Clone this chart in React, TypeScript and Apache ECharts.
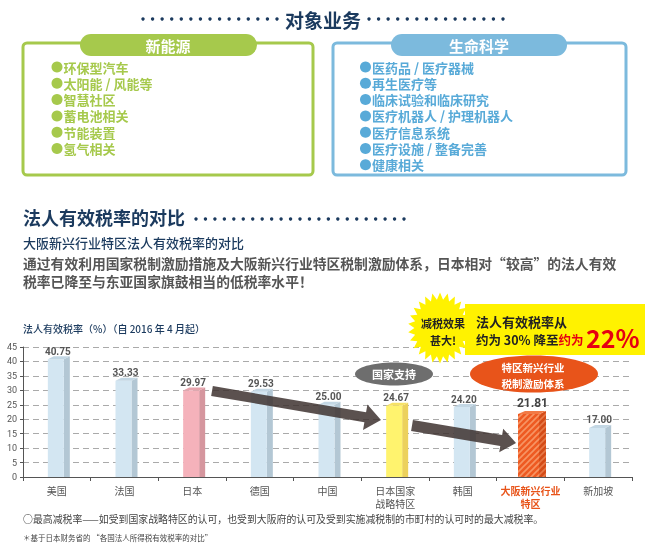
import React, { useEffect, useRef } from 'react';
import * as echarts from 'echarts';

const categories = ['美国', '法国', '日本', '德国', '中国', '日本国家\n战略特区', '韩国', '大阪新兴行业\n特区', '新加坡'];
const rates = [40.75, 33.33, 29.97, 29.53, 25.0, 24.67, 24.2, 21.81, 17.0];
const barKinds = ['other', 'other', 'japan', 'other', 'other', 'zone', 'other', 'osaka', 'other'];
const yMin = 0;
const yMax = 45;
const yStep = 5;
const newEnergyItems = ['环保型汽车', '太阳能 / 风能等', '智慧社区', '蓄电池相关', '节能装置', '氢气相关'];
const lifeScienceItems = ['医药品 / 医疗器械', '再生医疗等', '临床试验和临床研究', '医疗机器人 / 护理机器人', '医疗信息系统', '医疗设施 / 整备完善', '健康相关'];

const F = '"Noto Sans CJK SC", "Noto Sans", sans-serif';
const NAVY = '#1b3a5e';
const GREEN = '#a6c94c';
const BLUE = '#7cbadd';
const BLUE_TEXT = '#58aad8';
const ORANGE = '#e8541a';

function arrowPts(x1: number, y1: number, x2: number, y2: number, sw: number, hw: number, hl: number) {
  const L = Math.hypot(x2 - x1, y2 - y1);
  const ux = (x2 - x1) / L, uy = (y2 - y1) / L;
  const px = -uy, py = ux;
  const bx = x2 - ux * hl, by = y2 - uy * hl;
  return [
    [x1 + (px * sw) / 2, y1 + (py * sw) / 2],
    [bx + (px * sw) / 2, by + (py * sw) / 2],
    [bx + (px * hw) / 2, by + (py * hw) / 2],
    [x2, y2],
    [bx - (px * hw) / 2, by - (py * hw) / 2],
    [bx - (px * sw) / 2, by - (py * sw) / 2],
    [x1 - (px * sw) / 2, y1 - (py * sw) / 2],
  ];
}

function starPts(cx: number, cy: number, rx: number, ry: number, n: number, inner: number) {
  const pts: number[][] = [];
  for (let i = 0; i < n * 2; i++) {
    const a = -Math.PI / 2 + (i * Math.PI) / n;
    const r = i % 2 ? inner : 1;
    pts.push([cx + rx * r * Math.cos(a), cy + ry * r * Math.sin(a)]);
  }
  return pts;
}

function dotRow(x0: number, x1: number, y: number, n: number) {
  const els: any[] = [];
  for (let i = 0; i < n; i++) {
    els.push({ type: 'circle', z: 100, shape: { cx: x0 + ((x1 - x0) * i) / (n - 1), cy: y, r: 1.7 }, style: { fill: NAVY } });
  }
  return els;
}

function makeStripe(base: string, stripe: string) {
  const cv = document.createElement('canvas');
  cv.width = 6;
  cv.height = 6;
  const ctx = cv.getContext('2d')!;
  ctx.fillStyle = base;
  ctx.fillRect(0, 0, 6, 6);
  ctx.strokeStyle = stripe;
  ctx.lineWidth = 1.6;
  ctx.beginPath();
  ctx.moveTo(0, 6); ctx.lineTo(6, 0);
  ctx.moveTo(-3, 3); ctx.lineTo(3, -3);
  ctx.moveTo(3, 9); ctx.lineTo(9, 3);
  ctx.stroke();
  return { image: cv, repeat: 'repeat' };
}

function txt(text: string, x: number, y: number, size: number, fill: string, weight: any = 'normal', align = 'left', extra: any = {}) {
  return {
    type: 'text', z: 101, x, y,
    style: { text, fill, fontSize: size, fontWeight: weight, fontFamily: F, align, verticalAlign: 'middle', ...extra },
  };
}

export default function App() {
  const ref = useRef<HTMLDivElement>(null);
  useEffect(() => {
    const chart = echarts.init(ref.current!, null, { renderer: 'svg' });
    const palette: any = {
      other: { front: '#d3e6f2', side: '#b3c7d4', top: '#c3d7e4' },
      japan: { front: '#f5b2bb', side: '#d5969e', top: '#e7a4ad' },
      zone: { front: '#fff36e', side: '#ecd15c', top: '#f6e266' },
      osaka: { front: makeStripe('#ee5a22', '#f79564'), side: makeStripe('#d44c18', '#e87a48'), top: '#f27a45' },
    };

    const elements: any[] = [];
    // Top section
    elements.push(...dotRow(143, 277, 19, 15));
    elements.push(...dotRow(369, 503, 19, 15));
    elements.push(txt('对象业务', 323, 19, 19, NAVY, 'bold', 'center'));

    elements.push({ type: 'rect', z: 100, shape: { x: 23, y: 43, width: 290, height: 132, r: 4 }, style: { fill: '#fff', stroke: GREEN, lineWidth: 3 } });
    elements.push({ type: 'rect', z: 100, shape: { x: 80, y: 34, width: 177, height: 22, r: 11 }, style: { fill: GREEN } });
    elements.push(txt('新能源', 168, 45, 15, '#fff', 'bold', 'center'));
    newEnergyItems.forEach((t, i) => {
      const y = 67 + i * 16.3;
      elements.push({ type: 'circle', z: 101, shape: { cx: 57, cy: y, r: 5.5 }, style: { fill: GREEN } });
      elements.push(txt(t, 63.5, y, 13, GREEN, 'bold'));
    });

    elements.push({ type: 'rect', z: 100, shape: { x: 333, y: 43, width: 293, height: 132, r: 4 }, style: { fill: '#fff', stroke: BLUE, lineWidth: 3 } });
    elements.push({ type: 'rect', z: 100, shape: { x: 391, y: 34, width: 176, height: 22, r: 11 }, style: { fill: BLUE } });
    elements.push(txt('生命科学', 479, 45, 15, '#fff', 'bold', 'center'));
    lifeScienceItems.forEach((t, i) => {
      const y = 67 + i * 16.3;
      elements.push({ type: 'circle', z: 101, shape: { cx: 365.5, cy: y, r: 5.5 }, style: { fill: BLUE_TEXT } });
      elements.push(txt(t, 372, y, 13, BLUE_TEXT, 'bold'));
    });

    // Section 2
    elements.push(txt('法人有效税率的对比', 23, 217, 18, NAVY, 'bold'));
    elements.push(...dotRow(196, 404, 219, 23));
    elements.push(txt('大阪新兴行业特区法人有效税率的对比', 23, 242, 13, NAVY, 500));
    elements.push(txt('通过有效利用国家税制激励措施及大阪新兴行业特区税制激励体系，日本相对“较高”的法人有效', 23, 263, 13.8, '#555', 'bold'));
    elements.push(txt('税率已降至与东亚国家旗鼓相当的低税率水平！', 23, 281, 13.8, '#555', 'bold'));
    elements.push(txt('法人有效税率（%）（自 2016 年 4 月起）', 23, 328, 10, NAVY, 500));

    // Arrows
    elements.push({ type: 'polygon', z: 100, shape: { points: arrowPts(212, 391, 381, 420, 10, 26, 16) }, style: { fill: 'rgba(62,50,48,0.85)' } });
    elements.push({ type: 'polygon', z: 100, shape: { points: arrowPts(412, 425.5, 516, 443, 11, 24, 15) }, style: { fill: 'rgba(62,50,48,0.85)' } });

    // Ellipses
    elements.push({ type: 'ellipse', z: 100, shape: { cx: 394, cy: 374, rx: 39, ry: 11.5 }, style: { fill: '#6e6e6e' } });
    elements.push(txt('国家支持', 394, 374, 11, '#fff', 'bold', 'center'));
    elements.push({ type: 'ellipse', z: 100, shape: { cx: 534, cy: 374, rx: 64, ry: 18.5 }, style: { fill: ORANGE } });
    elements.push(txt('特区新兴行业\n税制激励体系', 533, 375, 10.5, '#fff', 'bold', 'center', { lineHeight: 16 }));

    // Yellow callout
    elements.push({ type: 'rect', z: 100, shape: { x: 465, y: 304, width: 180, height: 51 }, style: { fill: '#fff200' } });
    elements.push({ type: 'polygon', z: 100, shape: { points: starPts(440, 328, 32, 35.5, 26, 0.8) }, style: { fill: '#fff200' } });
    elements.push(txt('减税效果\n甚大!', 443, 331, 11, '#222', 'bold', 'center', { lineHeight: 17 }));
    elements.push(txt('法人有效税率从', 476, 321, 13, '#222', 'bold'));
    elements.push({
      type: 'text', z: 101, x: 476, y: 339,
      style: {
        text: '{a|约为 30% 降至}{b|约为}',
        verticalAlign: 'middle',
        align: 'left',
        rich: {
          a: { fontSize: 12.5, fontWeight: 'bold', fill: '#222', fontFamily: F },
          b: { fontSize: 12.5, fontWeight: 'bold', fill: '#e60012', fontFamily: F },
        },
      },
    });
    elements.push(txt('22%', 586, 337, 25, '#e60012', 'bold'));

    // Footnotes
    elements.push(txt('○最高减税率——如受到国家战略特区的认可，也受到大阪府的认可及受到实施减税制的市町村的认可时的最大减税率。', 23, 519, 9.9, '#444', 'normal'));
    elements.push(txt('＊基于日本财务省的 “各国法人所得税有效税率的对比”', 23, 537, 7.5, '#444', 'normal'));

    chart.setOption({
      animation: false,
      grid: { left: 23, right: 25, top: 347, bottom: 68, containLabel: false },
      xAxis: {
        type: 'category',
        data: categories,
        axisLine: { lineStyle: { color: '#555', width: 1 } },
        axisTick: { show: true, length: 4, alignWithLabel: false, lineStyle: { color: '#555' } },
        axisLabel: {
          interval: 0,
          margin: 7,
          fontSize: 10,
          lineHeight: 13,
          color: '#555',
          fontFamily: F,
          formatter: (v: string, i: number) =>
            i === 7 ? v.split('\n').map((s) => `{hl|${s}}`).join('\n') : v,
          rich: { hl: { color: ORANGE, fontWeight: 'bold', fontSize: 10, lineHeight: 13, fontFamily: F } },
        },
      },
      yAxis: {
        type: 'value',
        min: yMin,
        max: yMax,
        interval: yStep,
        axisLine: { show: true, lineStyle: { color: '#555', width: 1 } },
        axisTick: { show: true, length: 3, lineStyle: { color: '#555' } },
        axisLabel: { fontSize: 9, color: '#555', margin: 6, fontFamily: 'Roboto, sans-serif' },
        splitLine: { show: true, lineStyle: { color: '#aaa', type: [6, 4], width: 1 } },
      },
      series: [
        {
          type: 'custom',
          data: rates.map((v, i) => [i, v]),
          encode: { x: 0, y: 1 },
          renderItem: (params: any, api: any) => {
            const idx = api.value(0);
            const val = api.value(1);
            const top = api.coord([idx, val]);
            const base = api.coord([idx, 0]);
            const kind = barKinds[idx];
            const col = palette[kind];
            const wide = kind === 'osaka';
            const c = top[0];
            const fl = c - (wide ? 12.5 : 9);
            const fr = c + (wide ? 8.5 : 7);
            const dx = wide ? 7 : 6;
            const dy = 3;
            const yT = top[1];
            const yB = base[1];
            return {
              type: 'group',
              children: [
                { type: 'polygon', shape: { points: [[fr, yT], [fr + dx, yT - dy], [fr + dx, yB], [fr, yB]] }, style: { fill: col.side } },
                { type: 'rect', shape: { x: fl, y: yT, width: fr - fl, height: yB - yT }, style: { fill: col.front } },
                { type: 'polygon', shape: { points: [[fl, yT], [fl + dx, yT - dy], [fr + dx, yT - dy], [fr, yT]] }, style: { fill: col.top } },
                {
                  type: 'text',
                  style: {
                    text: val.toFixed(2),
                    x: c + (wide ? 2 : 1),
                    y: yT - (wide ? 11 : 8),
                    align: 'center',
                    verticalAlign: 'middle',
                    fill: wide ? '#444' : '#555',
                    fontSize: wide ? 12 : 10,
                    fontWeight: 'bold',
                    fontFamily: 'Roboto, sans-serif',
                  },
                },
              ],
            };
          },
        },
      ],
      graphic: { elements },
    });
    return () => chart.dispose();
  }, []);
  return <div ref={ref} style={{ position: 'fixed', left: 0, top: 0, width: 657, height: 545 }} />;
}
